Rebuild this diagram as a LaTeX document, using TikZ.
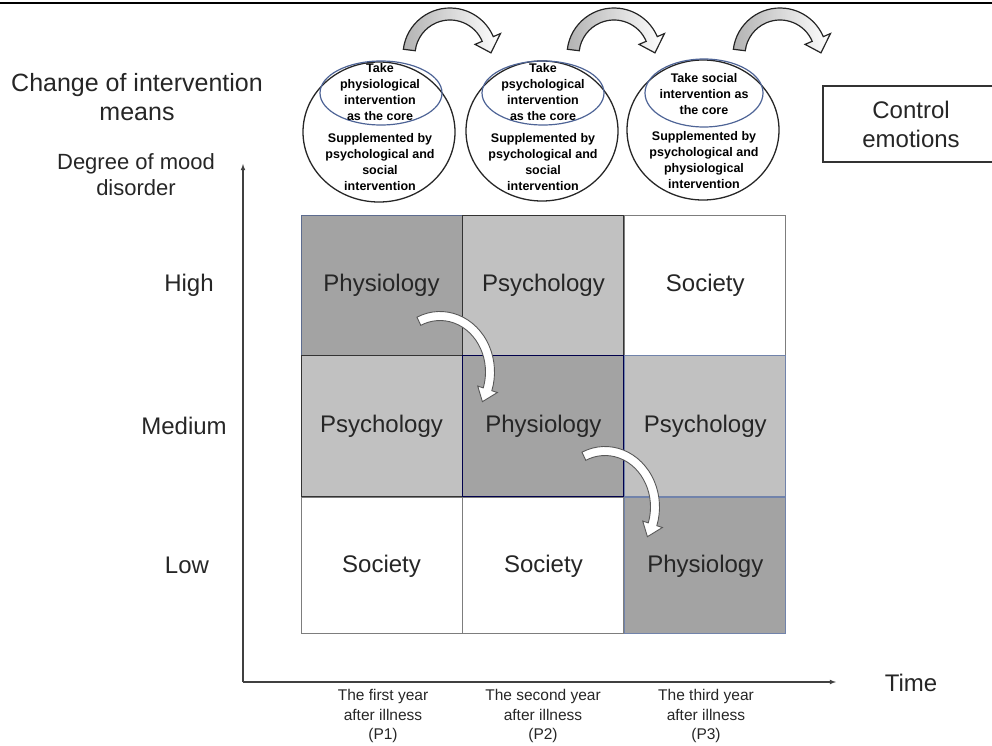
\documentclass[tikz,border=0pt]{standalone}
\usepackage{fontspec}
\setmainfont{Liberation Sans}
\usetikzlibrary{arrows,calc,positioning,shapes.geometric}

\definecolor{darkcell}{RGB}{163,163,163}
\definecolor{lightcell}{RGB}{193,193,193}
\definecolor{cellline}{RGB}{125,125,125}
\definecolor{rimblue}{RGB}{78,100,150}

% bent block arrow: [style]{centre}{x radius}{y radius}{from}{to}{half width}{tip angle}
\newcommand{\bentarrow}[8][]{
	\begin{scope}[shift={#2}]
		\filldraw[#1] (#5:{#3+#7} and {#4+#7})
			arc[start angle=#5, end angle=#6, x radius=#3+#7, y radius=#4+#7]
			-- (#6:{#3+2.3*#7} and {#4+2.3*#7})
			-- (#8:#3 and #4)
			-- (#6:{#3-2.3*#7} and {#4-2.3*#7})
			-- (#6:{#3-#7} and {#4-#7})
			arc[start angle=#6, end angle=#5, x radius=#3-#7, y radius=#4-#7]
			-- cycle;
	\end{scope}
}

\begin{document}
\begin{tikzpicture}[
		x=1pt, y=-1pt,
		arrow/.style={-latex, line width=1.1, black!75},
		cell/.style={draw=cellline, line width=0.9, minimum width=161, minimum height=#1, inner sep=0, text=black!85, font=\fontsize{24}{28}\selectfont},
		cell/.default=140,
		ring/.style={draw=black!85, ellipse, line width=1.3, minimum width=152, minimum height=140},
		core/.style={draw=rimblue, ellipse, line width=1.2, minimum width=122, minimum height=64},
		note/.style={align=center, inner sep=0, text=black, font=\fontsize{12.5}{16}\selectfont\bfseries},
		axistext/.style={align=center, inner sep=0, text=black!85, font=\fontsize{24}{29}\selectfont},
		yeartext/.style={align=center, inner sep=0, text=black!85, font=\fontsize{15.5}{19.5}\selectfont},
		topbend/.style={draw=black!85, line width=1.2, left color=gray!60, right color=white},
		cellbend/.style={draw=black!65, line width=0.9, fill=white},
	]
	\useasboundingbox (0,0) rectangle (992,746);
	\clip (0,0) rectangle (992,746);
	\draw[line width=1.5] (0,3) -- (992,3);

	% intervention means per year
	\node[ring] (ring1) at (379,132) {};
	\node[core] (core1) at (381,93) {};
	\node[note] (take1) at (380,92.5) {Take\\physiological\\intervention\\as the core};
	\node[note] (supp1) at (380,162) {Supplemented by\\psychological and\\social\\intervention};

	\node[ring] (ring2) at (542,131) {};
	\node[core] (core2) at (543,93) {};
	\node[note] (take2) at (543,92.5) {Take\\psychological\\intervention\\as the core};
	\node[note] (supp2) at (543,162) {Supplemented by\\psychological and\\social\\intervention};

	\node[ring] (ring3) at (703,130) {};
	\node[core, minimum width=118, minimum height=68] (core3) at (704,93) {};
	\node[note] (take3) at (704,94) {Take social\\intervention as\\the core};
	\node[note] (supp3) at (704,160) {Supplemented by\\psychological and\\physiological\\intervention};

	\node[draw=black!80, line width=1.3, minimum width=176, minimum height=76, axistext] (ctrl) at (911,124) {Control\\emotions};

	\bentarrow[topbend]{(450,55)}{41}{41}{-173}{-23}{6}{-3}
	\bentarrow[topbend]{(614,55)}{41}{41}{-173}{-23}{6}{-3}
	\bentarrow[topbend]{(780,55)}{41}{41}{-173}{-23}{6}{-3}

	% grid of degree against year
	\node[cell, fill=darkcell, draw=rimblue!70!gray] (c11) at (381.5,285) {Physiology};
	\node[cell, fill=lightcell, draw=black!80] (c12) [right=0pt of c11] {Psychology};
	\node[cell, fill=white] (c13) [right=0pt of c12] {Society};
	\node[cell=141, fill=lightcell, draw=black!80] (c21) [below=0pt of c11] {Psychology};
	\node[cell=141, fill=darkcell, draw=black!70!blue] (c22) [below=0pt of c12] {Physiology};
	\node[cell=141, fill=lightcell, draw=rimblue!80] (c23) [below=0pt of c13] {Psychology};
	\node[cell=136, fill=white] (c31) [below=0pt of c21] {Society};
	\node[cell=136, fill=white] (c32) [below=0pt of c22] {Society};
	\node[cell=136, fill=darkcell, draw=rimblue!80] (c33) [below=0pt of c23] {Physiology};

	\bentarrow[cellbend]{(440,372)}{50}{56}{-115}{18}{4.5}{32}
	\bentarrow[cellbend]{(605,507)}{50}{56}{-115}{18}{4.5}{32}

	% axes
	\coordinate (o) at (243,682);
	\coordinate (ytop) at (243,164);
	\coordinate (xend) at (836,682);
	\draw[arrow] (o) -- (ytop);
	\draw[arrow] (o) -- (xend);

	\node[axistext, font=\fontsize{25}{29}\selectfont] (means) at (137,97) {Change of intervention\\means};
	\node[axistext, font=\fontsize{22}{26}\selectfont] (degree) at (136,175) {Degree of mood\\disorder};
	\node[axistext] (high) at (189,0 |- c11) {High};
	\node[axistext] (medium) at (184,0 |- c21) {Medium};
	\node[axistext] (low) at (187,0 |- c31) {Low};
	\node[axistext] (time) at (911,683) {Time};

	\node[yeartext] (p1) at (383,716) {The first year\\after illness\\(P1)};
	\node[yeartext] (p2) at (543,716) {The second year\\after illness\\(P2)};
	\node[yeartext] (p3) at (706,716) {The third year\\after illness\\(P3)};
\end{tikzpicture}
\end{document}
